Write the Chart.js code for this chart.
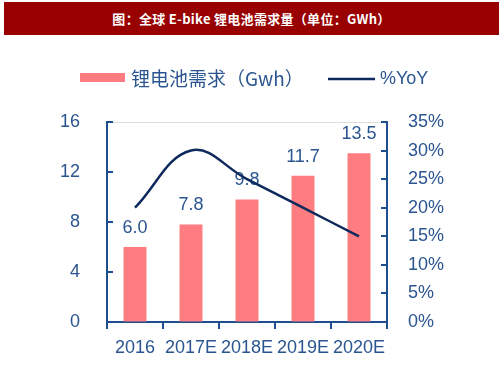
<!DOCTYPE html>
<html><head><meta charset="utf-8">
<script src="https://cdn.jsdelivr.net/npm/chart.js@4/dist/chart.umd.min.js"></script>
<style>
html,body{margin:0;padding:0;background:#fff;}
#wrap{position:relative;width:503px;height:378px;}
#title{position:absolute;left:4px;top:2px;width:495px;height:33px;background:#990000;color:#fff;
font:bold 13px "Noto Sans CJK SC","DejaVu Serif",serif;line-height:33px;text-align:center;letter-spacing:0.3px;}
canvas{position:absolute;left:0;top:0;}
</style></head>
<body>
<div id="wrap">
<canvas id="c" width="503" height="378"></canvas>
<div id="title">图：全球 E-bike 锂电池需求量（单位：GWh）</div>
</div>
<script>
const categories = ["2016","2017E","2018E","2019E","2020E"];
const demand = [6.0, 7.8, 9.8, 11.7, 13.5];
const yoy = [20, 30, 25, 20, 15];
const leftTicks = [0,4,8,12,16];
const rightTicks = [0,5,10,15,20,25,30,35];
const seriesNames = ["锂电池需求（Gwh）","%YoY"];

const AXIS = '#1F4E8F';
const TEXT = '#2A5590';
const BAR = '#FF7C80';
const LINE = '#0E2A5C';
const FONT = '"Liberation Sans", Arial, sans-serif';

const customPlugin = {
  id: 'custom',
  afterDatasetDraw(chart, args) {
    if (args.index !== 0) return;
    const ctx = chart.ctx;
    const meta = chart.getDatasetMeta(0);
    ctx.save();
    ctx.fillStyle = TEXT;
    ctx.font = '18px ' + FONT;
    ctx.textAlign = 'center';
    ctx.textBaseline = 'middle';
    meta.data.forEach((el, i) => {
      ctx.fillText(demand[i].toFixed(1), el.x, el.y - 19);
    });
    ctx.restore();
  },
  afterDraw(chart) {
    const ctx = chart.ctx;
    const ca = chart.chartArea;
    const yl = chart.scales.y, yr = chart.scales.y1;
    ctx.save();
    ctx.strokeStyle = AXIS;
    ctx.lineWidth = 2;
    leftTicks.forEach(v => {
      const y = Math.round(yl.getPixelForValue(v));
      ctx.beginPath(); ctx.moveTo(ca.left, y); ctx.lineTo(ca.left + 6, y); ctx.stroke();
    });
    rightTicks.forEach(v => {
      const y = Math.round(yr.getPixelForValue(v));
      ctx.beginPath(); ctx.moveTo(ca.right, y); ctx.lineTo(ca.right - 6, y); ctx.stroke();
    });
    // legend
    ctx.fillStyle = BAR;
    ctx.fillRect(80, 73, 45, 9);
    ctx.strokeStyle = LINE;
    ctx.lineWidth = 2.5;
    ctx.beginPath(); ctx.moveTo(328, 79); ctx.lineTo(375, 79); ctx.stroke();
    ctx.fillStyle = TEXT;
    ctx.textBaseline = 'middle';
    ctx.textAlign = 'left';
    ctx.font = '19px "Noto Sans CJK SC", ' + FONT;
    ctx.fillText(seriesNames[0], 131, 79);
    ctx.font = '18px ' + FONT;
    ctx.fillText(seriesNames[1], 380, 79);
    ctx.restore();
  }
};

new Chart(document.getElementById('c'), {
  type: 'bar',
  data: {
    labels: categories,
    datasets: [
      { type: 'bar', label: seriesNames[0], data: demand, backgroundColor: BAR,
        yAxisID: 'y', order: 1, barPercentage: 0.41, categoryPercentage: 1 },
      { type: 'line', label: seriesNames[1], data: yoy, borderColor: LINE, borderWidth: 2.5,
        yAxisID: 'y1', order: 0, tension: 0.4, pointRadius: 0, fill: false,
        cubicInterpolationMode: 'default' }
    ]
  },
  plugins: [customPlugin],
  options: {
    responsive: false,
    animation: false,
    layout: { padding: { top: 122, left: 0, right: 0, bottom: 0 } },
    plugins: { legend: { display: false }, tooltip: { enabled: false } },
    scales: {
      x: {
        grid: { drawOnChartArea: false, color: AXIS, tickColor: AXIS, tickLength: 7, lineWidth: 2, offset: true },
        border: { color: AXIS, width: 2 },
        ticks: { color: TEXT, font: { family: FONT, size: 18 }, padding: 8, maxRotation: 0, autoSkip: false },
        afterFit(s) { s.height = 56; }
      },
      y: {
        position: 'left', min: 0, max: 16,
        afterBuildTicks(s) { s.ticks = leftTicks.map(v => ({ value: v })); },
        grid: { drawTicks: false, color: c => (c.tick && c.tick.value === 16) ? '#DDDDDD' : 'rgba(0,0,0,0)', lineWidth: 1 },
        border: { color: AXIS, width: 2 },
        ticks: { color: TEXT, font: { family: FONT, size: 18 }, padding: 27 },
        afterFit(s) { s.width = 107; }
      },
      y1: {
        position: 'right', min: 0, max: 35,
        afterBuildTicks(s) { s.ticks = rightTicks.map(v => ({ value: v })); },
        grid: { drawTicks: false, drawOnChartArea: false },
        border: { color: AXIS, width: 2 },
        ticks: { color: TEXT, font: { family: FONT, size: 18 }, padding: 21, callback: v => v + '%' },
        afterFit(s) { s.width = 116; }
      }
    }
  }
});
</script>
</body></html>
